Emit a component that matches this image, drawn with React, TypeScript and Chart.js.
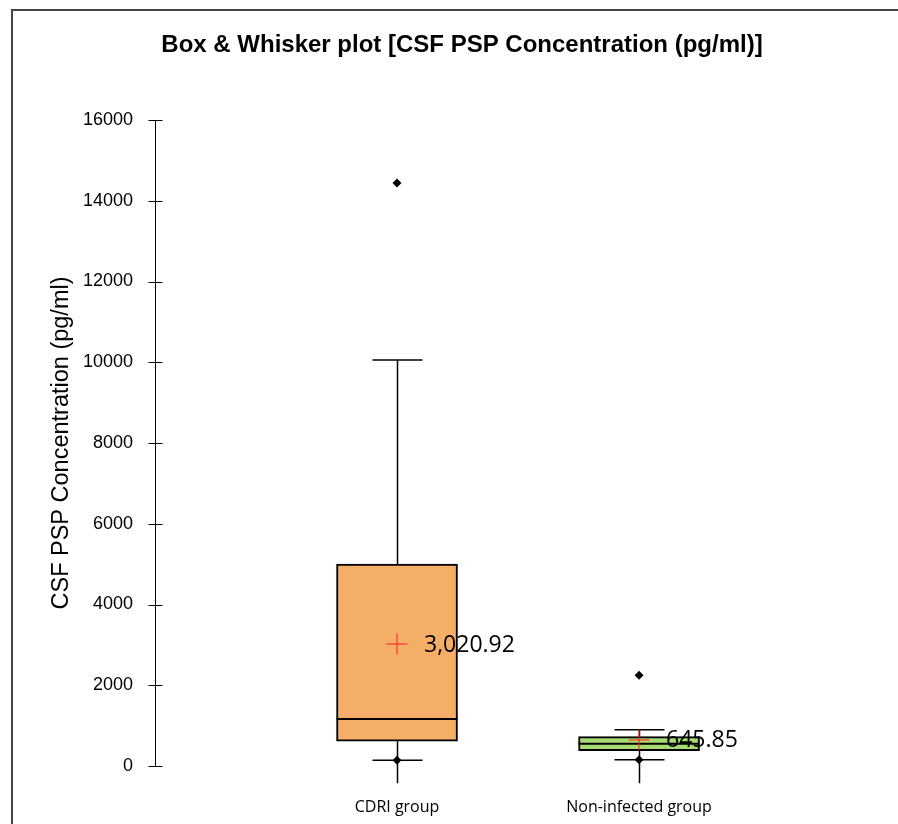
import React, { useEffect, useRef } from "react";
import { Chart, registerables } from "chart.js";

Chart.register(...registerables);

// ---- data ----
const categories = ["CDRI group", "Non-infected group"];
const q1Values = [612, 379];
const q3Values = [5003, 726];
const medianValues = [1164, 552];
const meanValues = [3020.92, 645.85];
const upperWhiskerValues = [10056, 900];
const minValues = [141, 156];
const whiskerLineEnd = [-430, -430];
const outlierValues = [[14440], [2246]];
const yTicks = [0, 2000, 4000, 6000, 8000, 10000, 12000, 14000, 16000];

const boxColors = ["#F4AE68", "#A8D973"];
const titleText = "Box & Whisker plot [CSF PSP Concentration (pg/ml)]";
const yTitleText = "CSF PSP Concentration (pg/ml)";

const boxPlugin = {
  id: "boxExtras",
  beforeDraw(chart: any) {
    const ctx = chart.ctx;
    ctx.save();
    ctx.strokeStyle = "#444";
    ctx.lineWidth = 2;
    ctx.strokeRect(12, 10, 1200, 1200);
    ctx.restore();
  },
  beforeDatasetsDraw(chart: any) {
    const ctx = chart.ctx;
    const xs = chart.scales.x;
    const ys = chart.scales.y;
    ctx.save();
    ctx.strokeStyle = "#000";
    ctx.lineWidth = 1.5;
    categories.forEach((_, i) => {
      const cx = Math.round(xs.getPixelForValue(i + 1)) + 0.5;
      const yUp = ys.getPixelForValue(upperWhiskerValues[i]);
      const yQ3 = ys.getPixelForValue(q3Values[i]);
      const yQ1 = ys.getPixelForValue(q1Values[i]);
      const yEnd = ys.getPixelForValue(whiskerLineEnd[i]);
      const yMin = ys.getPixelForValue(minValues[i]);
      ctx.beginPath();
      ctx.moveTo(cx, yQ3);
      ctx.lineTo(cx, yUp);
      ctx.moveTo(cx, yQ1);
      ctx.lineTo(cx, yEnd);
      ctx.moveTo(cx - 25, yUp);
      ctx.lineTo(cx + 25, yUp);
      ctx.moveTo(cx - 25, yMin);
      ctx.lineTo(cx + 25, yMin);
      ctx.stroke();
    });
    ctx.restore();
  },
  afterDatasetDraw(chart: any, args: any) {
    if (args.index !== 0) return;
    const ctx = chart.ctx;
    const xs = chart.scales.x;
    const ys = chart.scales.y;
    ctx.save();
    ctx.strokeStyle = "#000";
    ctx.lineWidth = 2;
    categories.forEach((_, i) => {
      const cx = xs.getPixelForValue(i + 1);
      const ym = ys.getPixelForValue(medianValues[i]);
      ctx.beginPath();
      ctx.moveTo(cx - 60.5, ym);
      ctx.lineTo(cx + 60.5, ym);
      ctx.stroke();
    });
    ctx.restore();
  },
  afterDatasetsDraw(chart: any) {
    const ctx = chart.ctx;
    const xs = chart.scales.x;
    const ys = chart.scales.y;
    ctx.save();
    ctx.fillStyle = "#000";
    ctx.font = "23px 'Open Sans'";
    ctx.textAlign = "left";
    ctx.textBaseline = "middle";
    categories.forEach((_, i) => {
      const cx = xs.getPixelForValue(i + 1);
      const y = ys.getPixelForValue(meanValues[i]);
      const label = meanValues[i].toLocaleString("en-US", {
        minimumFractionDigits: 2,
        maximumFractionDigits: 2,
      });
      ctx.fillText(label, cx + 27, y + 1);
    });
    // crossing ticks on y axis
    ctx.strokeStyle = "#000";
    ctx.lineWidth = 1;
    const ax = Math.round(ys.right) + 0.5;
    ys.ticks.forEach((t: any) => {
      const py = Math.round(ys.getPixelForValue(t.value)) + 0.5;
      ctx.beginPath();
      ctx.moveTo(ax - 7, py);
      ctx.lineTo(ax + 7, py);
      ctx.stroke();
    });
    ctx.restore();
  },
};

export default function App() {
  const ref = useRef<HTMLCanvasElement>(null);
  useEffect(() => {
    if (!ref.current) return;
    const chart = new Chart(ref.current, {
      type: "bar",
      data: {
        datasets: [
          {
            type: "bar",
            data: categories.map((_, i) => ({ x: i + 1, y: [q1Values[i], q3Values[i]] })) as any,
            backgroundColor: boxColors,
            borderColor: "#000",
            borderWidth: 2,
            borderSkipped: false,
            barThickness: 121,
            order: 10,
          } as any,
          {
            type: "scatter",
            data: categories.map((_, i) => ({ x: i + 1, y: meanValues[i] })),
            pointStyle: "cross",
            pointRadius: 10.5,
            borderColor: "#FF2020",
            borderWidth: 1,
            order: 2,
          } as any,
          {
            type: "scatter",
            data: [
              ...categories.map((_, i) => ({ x: i + 1, y: minValues[i] })),
              ...outlierValues.flatMap((arr, i) => arr.map((v) => ({ x: i + 1, y: v }))),
            ],
            pointStyle: "rectRot",
            pointRadius: 4.5,
            backgroundColor: "#000",
            borderColor: "#000",
            borderWidth: 0,
            order: 1,
          } as any,
        ],
      },
      options: {
        responsive: false,
        animation: false,
        devicePixelRatio: 1,
        layout: { autoPadding: false, padding: { left: 26, right: 0, top: 0, bottom: 0 } },
        plugins: {
          legend: { display: false },
          tooltip: { enabled: false },
          title: {
            display: true,
            text: titleText,
            color: "#000",
            font: { family: "'Liberation Sans', Arial", size: 24, weight: "bold" },
            padding: { top: 30.6, bottom: 60.6 },
          },
        },
        scales: {
          x: {
            type: "linear",
            min: 0,
            max: 3.07,
            offset: false,
            grid: { display: false, offset: false },
            border: { display: false },
            afterBuildTicks: (scale: any) => {
              scale.ticks = categories.map((_, i) => ({ value: i + 1 }));
            },
            afterFit: (scale: any) => {
              scale.height = 58;
            },
            ticks: {
              autoSkip: false,
              maxRotation: 0,
              padding: 24,
              color: "#000",
              font: { family: "'Open Sans'", size: 16 },
              callback: (v: any) => categories[Number(v) - 1] ?? "",
            },
          },
          y: {
            type: "linear",
            min: 0,
            max: 16000,
            afterBuildTicks: (scale: any) => {
              scale.ticks = yTicks.map((v) => ({ value: v }));
            },
            afterFit: (scale: any) => {
              scale.width = 129;
            },
            grid: { display: true, drawOnChartArea: false, drawTicks: false },
            border: { display: true, color: "#000", width: 1 },
            ticks: {
              padding: 22,
              color: "#000",
              font: { family: "'Liberation Sans', Arial", size: 18 },
              callback: (v: any) => String(v),
            },
            title: {
              display: true,
              text: yTitleText,
              color: "#000",
              font: { family: "'Liberation Sans', Arial", size: 23.5 },
              padding: { top: 21.4, bottom: 0 },
            },
          },
        },
      },
      plugins: [boxPlugin],
    } as any);
    return () => chart.destroy();
  }, []);
  return (
    <div style={{ position: "absolute", left: 0, top: 0, width: 898, height: 824 }}>
      <canvas ref={ref} width={898} height={824} style={{ display: "block" }} />
    </div>
  );
}
